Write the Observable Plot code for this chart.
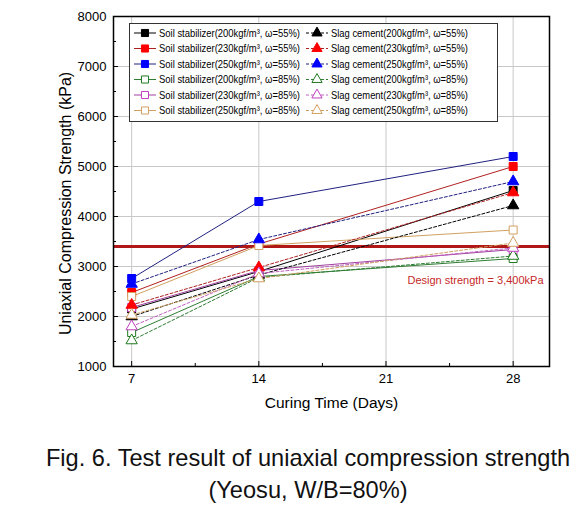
<!DOCTYPE html>
<html>
<head>
<meta charset="utf-8">
<script src="https://cdn.jsdelivr.net/npm/d3@7"></script>
<script src="https://cdn.jsdelivr.net/npm/@observablehq/plot@0.6"></script>
<style>
  body { margin: 0; background: #fff; }
  #caption { width: 587px; text-align: center; font-family: "Liberation Sans", Arial, sans-serif; font-size: 23.6px; line-height: 32px; color: #111; margin-top: 17px; padding-left: 29px; box-sizing: border-box; white-space: nowrap; }
</style>
</head>
<body>
<div id="chart"></div>
<div id="caption">Fig. 6. Test result of uniaxial compression strength<br>(Yeosu, W/B=80%)</div>
<script>
// ---- data ----
const days = [7, 14, 28];
const xTicks = [7, 14, 21, 28];
const xMinorTicks = [10.5, 17.5, 24.5];
const yTicks = [1000, 2000, 3000, 4000, 5000, 6000, 7000, 8000];
const yMinorTicks = [1500, 2500, 3500, 4500, 5500, 6500, 7500];

const seriesLabels = [
  "Soil stabilizer(200kgf/m³, ω=55%)",
  "Soil stabilizer(230kgf/m³, ω=55%)",
  "Soil stabilizer(250kgf/m³, ω=55%)",
  "Soil stabilizer(200kgf/m³, ω=85%)",
  "Soil stabilizer(230kgf/m³, ω=85%)",
  "Soil stabilizer(250kgf/m³, ω=85%)",
  "Slag cement(200kgf/m³, ω=55%)",
  "Slag cement(230kgf/m³, ω=55%)",
  "Slag cement(250kgf/m³, ω=55%)",
  "Slag cement(200kgf/m³, ω=85%)",
  "Slag cement(230kgf/m³, ω=85%)",
  "Slag cement(250kgf/m³, ω=85%)"
];
const seriesColors = ["#000000", "#ff0000", "#0000ff", "#1f7a1f", "#c040c0", "#d4a060",
                      "#000000", "#ff0000", "#0000ff", "#1f7a1f", "#c040c0", "#d4a060"];
const lineColors = ["#000000", "#b02020", "#202080", "#2e7d32", "#a040a0", "#d0a060",
                    "#000000", "#b02020", "#202080", "#2e7d32", "#c060c0", "#d0a060"];
const seriesSymbols = ["square", "square", "square", "square", "square", "square",
                       "triangle", "triangle", "triangle", "triangle", "triangle", "triangle"];
const seriesFilled = [true, true, true, false, false, false, true, true, true, false, false, false];
const seriesDashed = [false, false, false, false, false, false, true, true, true, true, true, true];

const soil200w55 = [2150, 2900, 4520];
const soil230w55 = [2480, 3450, 5000];
const soil250w55 = [2760, 4300, 5200];
const soil200w85 = [1680, 2800, 3160];
const soil230w85 = [2180, 2920, 3340];
const soil250w85 = [2400, 3420, 3730];
const slag200w55 = [2000, 2830, 4220];
const slag230w55 = [2230, 2980, 4480];
const slag250w55 = [2650, 3540, 4700];
const slag200w85 = [1520, 2780, 3210];
const slag230w85 = [1800, 2860, 3370];
const slag250w85 = [2030, 2760, 3470];
const seriesValues = [soil200w55, soil230w55, soil250w55, soil200w85, soil230w85, soil250w85,
                      slag200w55, slag230w55, slag250w55, slag200w85, slag230w85, slag250w85];

const designStrength = 3400;
const designLabel = "Design strength = 3,400kPa";
const xLabel = "Curing Time (Days)";
const yLabel = "Uniaxial Compression Strength (kPa)";

// ---- build ----
const seriesRows = seriesValues.map((vals, s) => days.map((d, i) => ({day: d, value: vals[i], s})));

const lineMarks = seriesRows.map((rows, s) => Plot.line(rows, {
  x: "day", y: "value", stroke: lineColors[s], strokeWidth: 1,
  strokeDasharray: seriesDashed[s] ? "3,2" : null
}));
const dotMarks = seriesRows.map((rows, s) => Plot.dot(rows, {
  x: "day", y: "value", symbol: seriesSymbols[s],
  r: seriesSymbols[s] === "square" ? 4.5 : 4.2,
  fill: seriesFilled[s] ? seriesColors[s] : "white",
  stroke: seriesColors[s], strokeWidth: 1
}));

const fontFamily = "'Liberation Sans', Arial, sans-serif";

const svg = Plot.plot({
  width: 587,
  height: 425,
  marginLeft: 113,
  marginRight: 38,
  marginTop: 16,
  marginBottom: 59,
  style: {fontFamily, fontSize: "13px", background: "white", color: "black"},
  x: {domain: [6, 30]},
  y: {domain: [1000, 8000]},
  marks: [
    Plot.gridX(xTicks, {stroke: "#c8c8c8", strokeOpacity: 1}),
    Plot.gridY(yTicks, {stroke: "#c8c8c8", strokeOpacity: 1}),
    Plot.ruleY([designStrength], {stroke: "#b01818", strokeWidth: 3}),
    ...lineMarks,
    ...dotMarks,
    Plot.axisX(xTicks, {tickSize: -5, tickPadding: 12, label: null, fontSize: 13}),
    Plot.axisX(xMinorTicks, {tickSize: -3, tickFormat: () => "", label: null}),
    Plot.axisY(yTicks, {tickSize: -5, tickPadding: 12, label: null, fontSize: 13, tickFormat: d3.format("d")}),
    Plot.axisY(yMinorTicks, {tickSize: -3, tickFormat: () => "", label: null}),
    Plot.frame({stroke: "black", strokeWidth: 1.5}),
    Plot.text([{v: designStrength, t: designLabel}], {
      y: "v", text: "t", frameAnchor: "right", textAnchor: "end",
      dx: -6, dy: 34, fill: "#c62828", fontSize: 11
    }),
    Plot.text([xLabel], {frameAnchor: "bottom", dy: 41, fontSize: 15.5}),
    Plot.text([yLabel], {frameAnchor: "left", textAnchor: "middle", rotate: -90, dx: -48, dy: 12, fontSize: 16})
  ]
});
document.getElementById("chart").appendChild(svg);

// ---- legend ----
const lg = d3.select(svg).append("g").attr("font-family", fontFamily).attr("font-size", 11)
  .attr("text-anchor", "start");
lg.append("rect").attr("x", 129.5).attr("y", 23.5).attr("width", 368).attr("height", 98)
  .attr("fill", "white").attr("stroke", "#333").attr("stroke-width", 1);
const colX = [134, 306];
const textW = [141, 137];
seriesLabels.forEach((label, s) => {
  const col = s < 6 ? 0 : 1;
  const row = s % 6;
  const y = 33 + row * 15.5;
  const x0 = colX[col];
  lg.append("line").attr("x1", x0).attr("x2", x0 + 22).attr("y1", y).attr("y2", y)
    .attr("stroke", lineColors[s]).attr("stroke-width", 1)
    .attr("stroke-dasharray", seriesDashed[s] ? "3,2" : null);
  const sym = seriesSymbols[s] === "square" ? d3.symbolSquare : d3.symbolTriangle;
  const r = seriesSymbols[s] === "square" ? 4 : 3.8;
  lg.append("path").attr("d", d3.symbol(sym, Math.PI * r * r)())
    .attr("transform", `translate(${x0 + 11},${y})`)
    .attr("fill", seriesFilled[s] ? seriesColors[s] : "white")
    .attr("stroke", seriesColors[s]).attr("stroke-width", 1);
  const t = lg.append("text").attr("x", x0 + 25).attr("y", y).attr("dy", "0.35em")
    .attr("text-anchor", "start").text(label);
  const w = t.node().getComputedTextLength();
  if (w > 0) t.attr("textLength", textW[col]).attr("lengthAdjust", "spacingAndGlyphs");
});
</script>
</body>
</html>
